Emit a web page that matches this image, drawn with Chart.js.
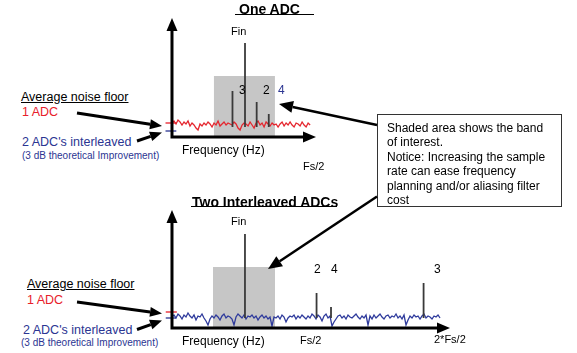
<!DOCTYPE html>
<html>
<head>
<meta charset="utf-8">
<script src="https://cdn.jsdelivr.net/npm/chart.js@4.4.1/dist/chart.umd.min.js"></script>
<style>
  body { margin:0; background:#fff; font-family:"Liberation Sans", Arial, sans-serif; }
  #page { position:relative; width:577px; height:353px; overflow:hidden; }
  .box { position:absolute; }
  .t { position:absolute; white-space:nowrap; line-height:1; color:#000; }
  .red { color:#e8202a; }
  .navy { color:#2b3592; }
  .rule { position:absolute; border-top:1.5px solid #000; height:0; }
  #note { position:absolute; left:377px; top:114px; width:183px; height:91px; border:1px solid #333; }
  #noteText { position:absolute; left:387px; top:120.5px; font-size:12px; line-height:14.5px; white-space:nowrap; }
  #arrows { position:absolute; left:0; top:0; }
</style>
</head>
<body>
<div id="page">
  <div class="box" style="left:160px;top:10px;width:165px;height:135px"><canvas id="oneAdc"></canvas></div>
  <div class="box" style="left:160px;top:200px;width:300px;height:135px"><canvas id="twoAdc"></canvas></div>

  <div class="t" style="left:239px;top:1.6px;font-size:14px;font-weight:bold">One ADC</div>
  <div class="rule" style="left:235px;top:14px;width:79px"></div>
  <div class="t" style="left:231px;top:25.6px;font-size:11px">Fin</div>
  <div class="t" style="left:239px;top:84.1px;font-size:12px">3</div>
  <div class="t" style="left:263px;top:84.1px;font-size:12px">2</div>
  <div class="t navy" style="left:278px;top:84.1px;font-size:12px">4</div>
  <div class="t" style="left:182px;top:144.1px;font-size:12px">Frequency (Hz)</div>
  <div class="t" style="left:303px;top:160.6px;font-size:11px">Fs/2</div>

  <div class="t" style="left:192px;top:194.8px;font-size:14px;font-weight:bold">Two Interleaved ADCs</div>
  <div class="rule" style="left:191px;top:206px;width:146px"></div>
  <div class="t" style="left:231px;top:215.6px;font-size:11px">Fin</div>
  <div class="t" style="left:314px;top:263.1px;font-size:12px">2</div>
  <div class="t" style="left:331px;top:263.1px;font-size:12px">4</div>
  <div class="t" style="left:434px;top:263.1px;font-size:12px">3</div>
  <div class="t" style="left:182px;top:334.8px;font-size:12px">Frequency (Hz)</div>
  <div class="t" style="left:300px;top:335.3px;font-size:11px">Fs/2</div>
  <div class="t" style="left:434px;top:333.6px;font-size:11px">2*Fs/2</div>

  <div class="t" style="left:21px;top:90.6px;font-size:12.5px;text-decoration:underline">Average noise floor</div>
  <div class="t red" style="left:22px;top:106.2px;font-size:12.5px">1 ADC</div>
  <div class="t navy" style="left:22px;top:135.6px;font-size:12.5px">2 ADC's interleaved</div>
  <div class="t navy" style="left:22px;top:151.1px;font-size:10px">(3 dB theoretical Improvement)</div>

  <div class="t" style="left:27px;top:278.2px;font-size:12.5px;text-decoration:underline">Average noise floor</div>
  <div class="t red" style="left:27px;top:293.9px;font-size:12.5px">1 ADC</div>
  <div class="t navy" style="left:23px;top:323.9px;font-size:12.5px">2 ADC's interleaved</div>
  <div class="t navy" style="left:21px;top:337.8px;font-size:10px">(3 dB theoretical Improvement)</div>

  <div id="note"></div>
  <div id="noteText">Shaded area shows the band<br>of interest.<br>Notice: Increasing the sample<br>rate can ease frequency<br>planning and/or aliasing filter<br>cost</div>

  <canvas id="arrows" width="577" height="353"></canvas>
</div>
<script>
// one ADC spectrum (x in units of Fs/2, y in dB above the axis)
const topNoise = [
  14,16,13,17,15,12,15,13,16,11,
  14,12,9,7,13,11,14,12,15,13,
  10,14,12,16,11,13,15,12,14,13,
  12,15,13,9,7,12,14,13,11,15,
  12,9,14,16,12,14,10,15,13,11,
  14,12,13,10,13,15,11,14,12,15,
  12,10,14,13,11,15,12,10,14,12
];
const topNoiseStep = 0.0139;
const topSpurFreq = [0.42, 0.507, 0.588, 0.672];
const topSpurLevel = [46, 94, 35, 23];
const topBand = [0.29, 0.715];
const topFloor1 = 14, topFloor2 = 6;

// two interleaved ADCs spectrum
const bottomNoise = [
  11,13,10,14,12,9,13,11,15,12,
  10,13,8,12,11,14,10,7,3,9,
  12,10,13,11,8,12,14,10,12,11,
  9,3,11,14,12,10,13,9,12,11,
  13,10,12,8,11,13,10,12,9,11,
  2,11,10,12,9,13,11,6,10,12,
  11,13,9,12,10,13,11,9,12,10,
  14,12,9,13,11,7,12,14,10,12,
  2,6,9,12,13,10,12,9,13,11,
  10,12,14,11,9,12,10,13,3,12,
  9,13,10,12,14,11,9,12,13,10,
  12,11,14,10,12,9,13,3,8,12,
  10,13,11,12,9,12,14,10,12,11,
  9,12,11,13,10
];
const bottomNoiseStep = 0.01439;
const bottomSpurFreq = [0.525, 1.04, 1.144, 1.81];
const bottomSpurLevel = [94, 35, 21, 45];
const bottomBand = [0.295, 0.741];
const bottomFloor1 = 16, bottomFloor2 = 10;

const bandTop = 61;
const spurBase = 10;

const axisArrows = {
  id: 'axisArrows',
  afterDatasetsDraw(chart, args, opts) {
    const {ctx, scales: {x, y}} = chart;
    const x0 = x.getPixelForValue(0), y0 = y.getPixelForValue(0);
    const xe = x.getPixelForValue(opts.xEnd), ye = y.getPixelForValue(opts.yEnd);
    ctx.save();
    ctx.strokeStyle = '#000';
    ctx.fillStyle = '#000';
    ctx.lineWidth = 3;
    ctx.lineCap = 'square';
    ctx.beginPath();
    ctx.moveTo(xe - 10, y0);
    ctx.lineTo(x0, y0);
    ctx.lineTo(x0, ye + 10);
    ctx.stroke();
    ctx.beginPath();
    ctx.moveTo(xe, y0); ctx.lineTo(xe - 13, y0 - 5.5); ctx.lineTo(xe - 13, y0 + 5.5);
    ctx.fill();
    ctx.beginPath();
    ctx.moveTo(x0, ye); ctx.lineTo(x0 - 5.5, ye + 13); ctx.lineTo(x0 + 5.5, ye + 13);
    ctx.fill();
    ctx.restore();
  }
};

function spectrum(id, c) {
  const line = (pts, color, w, order) => ({
    data: pts, borderColor: color, borderWidth: w, pointRadius: 0, tension: 0, fill: false, order: order
  });
  const spurs = c.spurFreq.map((f, i) =>
    line([{x: f, y: spurBase}, {x: f, y: c.spurLevel[i]}], '#3a3a3a', 1.8, 1));
  const datasets = [
    ...spurs,
    line(c.noise.map((v, i) => ({x: i * c.step, y: v})), c.noiseColor, 1.3, 2),
    line([{x: -0.045, y: c.floor1}, {x: 0.035, y: c.floor1}], '#e8202a', 1.3, 2),
    line([{x: -0.045, y: c.floor2}, {x: 0.03, y: c.floor2}], '#2b3592', 1.3, 2),
    {
      data: [{x: c.band[0], y: bandTop}, {x: c.band[1], y: bandTop}],
      borderColor: 'rgba(0,0,0,0)', borderWidth: 0, pointRadius: 0,
      backgroundColor: '#c6c6c6', fill: 'origin', order: 3
    }
  ];
  return new Chart(document.getElementById(id), {
    type: 'line',
    data: { datasets },
    options: {
      responsive: true,
      maintainAspectRatio: false,
      animation: false,
      events: [],
      layout: { padding: 0 },
      scales: {
        x: { type: 'linear', display: false, min: c.xMin, max: c.xMax, offset: false },
        y: { display: false, min: c.yMin, max: c.yMax }
      },
      plugins: {
        legend: { display: false },
        tooltip: { enabled: false },
        axisArrows: { xEnd: c.xEnd, yEnd: c.yEnd }
      }
    },
    plugins: [axisArrows]
  });
}

spectrum('oneAdc', {
  noise: topNoise, step: topNoiseStep, noiseColor: '#e5262e',
  spurFreq: topSpurFreq, spurLevel: topSpurLevel, band: topBand,
  floor1: topFloor1, floor2: topFloor2,
  xMin: -0.0833, xMax: 1.0625, yMin: -8, yMax: 127, xEnd: 1.0, yEnd: 119
});

spectrum('twoAdc', {
  noise: bottomNoise, step: bottomNoiseStep, noiseColor: '#2e3a9c',
  spurFreq: bottomSpurFreq, spurLevel: bottomSpurLevel, band: bottomBand,
  floor1: bottomFloor1, floor2: bottomFloor2,
  xMin: -0.0863, xMax: 2.072, yMin: -7, yMax: 128, xEnd: 2.0, yEnd: 118
});

// callout and noise floor arrows
const actx = document.getElementById('arrows').getContext('2d');
function arrow(x1, y1, x2, y2, w, len, half) {
  const a = Math.atan2(y2 - y1, x2 - x1);
  const bx = x2 - len * Math.cos(a), by = y2 - len * Math.sin(a);
  actx.lineWidth = w;
  actx.beginPath(); actx.moveTo(x1, y1); actx.lineTo(bx, by); actx.stroke();
  actx.beginPath();
  actx.moveTo(x2, y2);
  actx.lineTo(bx + half * Math.sin(a), by - half * Math.cos(a));
  actx.lineTo(bx - half * Math.sin(a), by + half * Math.cos(a));
  actx.fill();
}
actx.strokeStyle = '#000';
actx.fillStyle = '#000';
arrow(77, 113, 162, 126, 3, 12, 5);
arrow(137, 141, 162, 132.5, 3, 12, 5);
arrow(77, 302, 162, 313.5, 3, 12, 5);
arrow(137, 329.5, 162, 320.5, 3, 12, 5);
arrow(377, 125, 279, 104, 2.5, 14, 6);
arrow(377, 196.5, 268, 269, 2.5, 14, 6);
</script>
</body>
</html>
